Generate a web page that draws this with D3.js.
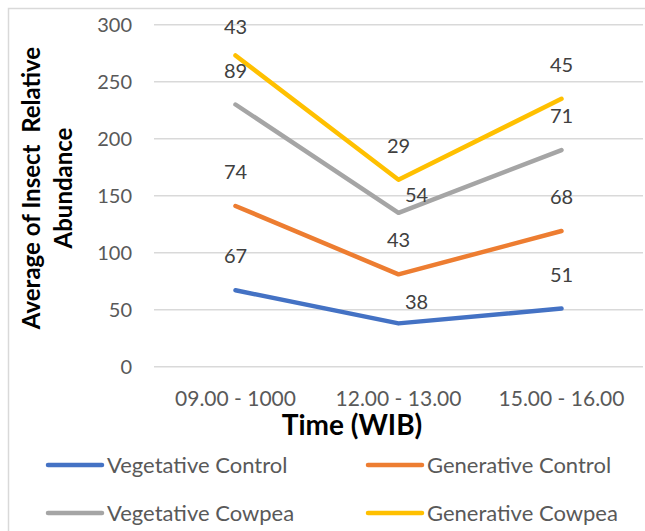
<!DOCTYPE html>
<html>
<head>
<meta charset="utf-8">
<script src="https://cdn.jsdelivr.net/npm/d3@7.9.0/dist/d3.min.js"></script>
<style>
  body { margin: 0; background: #fff; }
  svg text { font-family: Lato, "Open Sans", sans-serif; }
</style>
</head>
<body>
<svg id="chart" width="645" height="531"></svg>
<script>
const categories = ["09.00 - 1000", "12.00 - 13.00", "15.00 - 16.00"];
const seriesNames = ["Vegetative Control", "Generative Control", "Vegetative Cowpea", "Generative Cowpea"];
const vegetativeControl = [67, 38, 51];
const generativeControl = [74, 43, 68];
const vegetativeCowpea = [89, 54, 71];
const generativeCowpea = [43, 29, 45];
const yTicks = [0, 50, 100, 150, 200, 250, 300];
const colors = ["#4472C4", "#ED7D31", "#A5A5A5", "#FFC000"];

const svg = d3.select("#chart");
const plot = { left: 154, right: 643, top: 24.7, bottom: 366.7 };

// chart area border
svg.append("rect")
    .attr("x", 8.5).attr("y", 8.5)
    .attr("width", 700).attr("height", 600)
    .attr("fill", "none")
    .attr("stroke", "#D9D9D9")
    .attr("stroke-width", 1.5);

const xScale = d3.scaleBand().domain(categories).range([plot.left, plot.right]);
const yScale = d3.scaleLinear().domain([0, 300]).range([plot.bottom, plot.top]);

// rows for stacking
const rows = categories.map((c, i) => ({
  cat: c,
  [seriesNames[0]]: vegetativeControl[i],
  [seriesNames[1]]: generativeControl[i],
  [seriesNames[2]]: vegetativeCowpea[i],
  [seriesNames[3]]: generativeCowpea[i]
}));
const stacked = d3.stack().keys(seriesNames)(rows);

// gridlines
svg.append("g").selectAll("line")
  .data(yTicks)
  .join("line")
    .attr("x1", plot.left).attr("x2", plot.right)
    .attr("y1", d => yScale(d)).attr("y2", d => yScale(d))
    .attr("stroke", "#D9D9D9")
    .attr("stroke-width", 1.5);

// y axis labels
const yAxis = svg.append("g")
    .attr("transform", `translate(${plot.left},0)`)
    .call(d3.axisLeft(yScale).tickValues(yTicks).tickSize(0).tickPadding(22));
yAxis.select(".domain").remove();
yAxis.selectAll("text")
    .attr("font-size", 20)
    .attr("fill", "#595959")
    .style("font-family", "Lato, sans-serif");

// x axis labels
const xAxis = svg.append("g")
    .attr("transform", `translate(0,${plot.bottom})`)
    .call(d3.axisBottom(xScale).tickSize(0).tickPadding(24));
xAxis.select(".domain").remove();
xAxis.selectAll("text")
    .attr("font-size", 21)
    .attr("fill", "#595959")
    .style("font-family", "Lato, sans-serif");

// lines
const xc = c => xScale(c) + xScale.bandwidth() / 2;
const line = d3.line()
    .x(d => xc(d.data.cat))
    .y(d => yScale(d[1]));

svg.append("g").selectAll("path")
  .data(stacked)
  .join("path")
    .attr("d", line)
    .attr("fill", "none")
    .attr("stroke", (d, i) => colors[i])
    .attr("stroke-width", 4.5)
    .attr("stroke-linecap", "round")
    .attr("stroke-linejoin", "round");

// data labels (raw values, above each point)
const nudge = { "0-1": [18, 13], "2-1": [18, 16] };
stacked.forEach((s, si) => {
  svg.append("g").selectAll("text")
    .data(s)
    .join("text")
      .attr("x", (d, ci) => xc(d.data.cat) + (nudge[si + "-" + ci] || [0, 0])[0])
      .attr("y", (d, ci) => Math.max(yScale(d[1]) - 27, 34) + (nudge[si + "-" + ci] || [0, 0])[1])
      .attr("text-anchor", "middle")
      .attr("font-size", 20)
      .attr("fill", "#404040")
      .text(d => d[1] - d[0]);
});

// axis titles
svg.append("text")
    .attr("x", 352).attr("y", 435)
    .attr("text-anchor", "middle")
    .attr("font-size", 28)
    .attr("font-weight", "bold")
    .attr("fill", "#000")
    .text("Time (WIB)");

const yTitle = svg.append("text")
    .attr("transform", "translate(0,188) rotate(-90)")
    .attr("text-anchor", "middle")
    .attr("font-size", 24)
    .attr("font-weight", "bold")
    .attr("fill", "#000");
yTitle.append("tspan").attr("x", 0).attr("y", 40).text("Average of Insect\u00A0 Relative");
yTitle.append("tspan").attr("x", 0).attr("y", 72).text("Abundance");

// legend
const legendPos = [[48, 465], [368, 465], [48, 513], [368, 513]];
const legend = svg.append("g").selectAll("g")
  .data(seriesNames)
  .join("g")
    .attr("transform", (d, i) => `translate(${legendPos[i][0]},${legendPos[i][1]})`);
legend.append("line")
    .attr("x1", 0).attr("x2", 54)
    .attr("stroke", (d, i) => colors[i])
    .attr("stroke-width", 4.5)
    .attr("stroke-linecap", "round");
legend.append("text")
    .attr("x", 59).attr("y", 8)
    .attr("font-size", 22)
    .attr("fill", "#595959")
    .text(d => d);
</script>
</body>
</html>
